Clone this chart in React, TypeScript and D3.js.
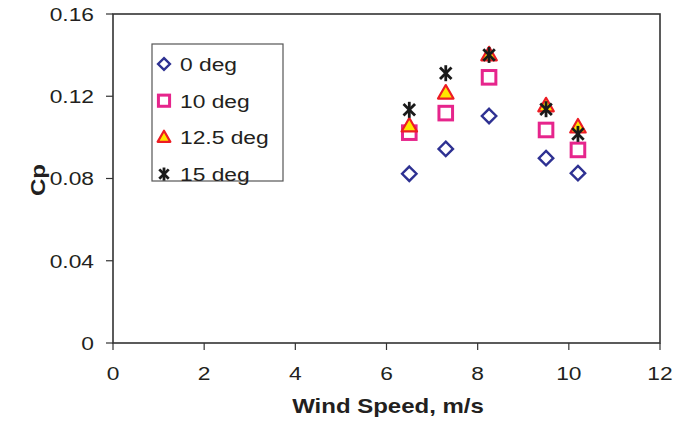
import React from "react";
import * as d3 from "d3";

const windSpeed = [6.5, 7.3, 8.25, 9.5, 10.2];
const cp0 = [0.0823, 0.0944, 0.1104, 0.0899, 0.0826];
const cp10 = [0.1023, 0.1118, 0.1292, 0.1036, 0.0939];
const cp125 = [0.1055, 0.1215, 0.1401, 0.1153, 0.1050];
const cp15 = [0.1134, 0.1312, 0.1401, 0.1137, 0.1017];
const seriesNames = ["0 deg", "10 deg", "12.5 deg", "15 deg"];
const xTicks = [0, 2, 4, 6, 8, 10, 12];
const yTicks = [0, 0.04, 0.08, 0.12, 0.16];
const yTickLabels = ["0", "0.04", "0.08", "0.12", "0.16"];

const W = 675, H = 423;
const M = { left: 113, right: 660, top: 14, bottom: 343 };
const FONT = "'Liberation Sans', Arial, Helvetica, sans-serif";
const SX = 1.2;
const TXT = "#231f20";

function Marker({ type, x, y, k = 1 }: { type: number; x: number; y: number; k?: number }) {
  if (type === 0) {
    const r = 7.2 * k;
    return <path d={`M${x},${y - r}L${x + r},${y}L${x},${y + r}L${x - r},${y}Z`} fill="#fff" stroke="#2e3192" strokeWidth={2.4} />;
  }
  if (type === 1) {
    const s = 6.8 * k;
    return <rect x={x - s} y={y - s} width={2 * s} height={2 * s} fill="#fff" stroke="#e6258c" strokeWidth={3} />;
  }
  if (type === 2) {
    const h = 13.5 * k, w = 15.5 * k;
    return <path d={`M${x},${y - h * 0.6}L${x + w / 2},${y + h * 0.4}L${x - w / 2},${y + h * 0.4}Z`} fill="#ffe600" stroke="#ed1c24" strokeWidth={2.2} strokeLinejoin="round" />;
  }
  const r = 8 * k;
  const dx = r * 0.72, dy = r * 0.72;
  return (
    <g stroke="#1a1a1a" strokeWidth={2.8} strokeLinecap="butt">
      <line x1={x} y1={y - r} x2={x} y2={y + r} />
      <line x1={x - dx} y1={y - dy} x2={x + dx} y2={y + dy} />
      <line x1={x - dx} y1={y + dy} x2={x + dx} y2={y - dy} />
    </g>
  );
}

function SText({ x, y, anchor, size, bold, children }: any) {
  return (
    <g transform={`translate(${x},${y}) scale(${SX},1)`}>
      <text x={0} y={0} textAnchor={anchor} fontSize={size} fontWeight={bold ? "bold" : "normal"} fontFamily={FONT} fill={TXT}>
        {children}
      </text>
    </g>
  );
}

export default function App() {
  const x = d3.scaleLinear().domain([0, 12]).range([M.left, M.right]);
  const y = d3.scaleLinear().domain([0, 0.16]).range([M.bottom, M.top]);
  const series = [cp0, cp10, cp125, cp15];
  const axisColor = "#333";
  return (
    <svg width={W} height={H} style={{ position: "absolute", left: 0, top: 0, background: "#fff" }}>
      <rect x={M.left} y={M.top} width={M.right - M.left} height={M.bottom - M.top} fill="none" stroke={axisColor} strokeWidth={1.6} />
      {yTicks.map((t, i) => (
        <g key={"y" + i}>
          <line x1={M.left - 7} x2={M.left} y1={y(t)} y2={y(t)} stroke={axisColor} strokeWidth={1.2} />
          <SText x={94} y={y(t) + 6.8} anchor="end" size={19}>{yTickLabels[i]}</SText>
        </g>
      ))}
      {xTicks.map((t, i) => (
        <g key={"x" + i}>
          <line x1={x(t)} x2={x(t)} y1={M.bottom} y2={M.bottom + 7} stroke={axisColor} strokeWidth={1.2} />
          <SText x={x(t)} y={380} anchor="middle" size={19}>{String(t)}</SText>
        </g>
      ))}
      <SText x={388} y={413} anchor="middle" size={20} bold>Wind Speed, m/s</SText>
      <g transform={`translate(45,180) rotate(-90) scale(${SX},1)`}>
        <text x={0} y={0} textAnchor="middle" fontSize={20} fontWeight="bold" fontFamily={FONT} fill={TXT}>Cp</text>
      </g>
      {series.map((s, si) => (
        <g key={"s" + si}>
          {s.map((v, i) => (
            <Marker key={i} type={si} x={x(windSpeed[i])} y={y(v)} />
          ))}
        </g>
      ))}
      <rect x={152} y={44} width={131} height={137} fill="#fff" stroke="#555" strokeWidth={1.2} />
      {seriesNames.map((n, i) => {
        const cy = 64 + i * 36.7;
        return (
          <g key={"l" + i}>
            <Marker type={i} x={164} y={cy} k={0.82} />
            <SText x={180} y={cy + 6.8} anchor="start" size={19}>{n}</SText>
          </g>
        );
      })}
    </svg>
  );
}
